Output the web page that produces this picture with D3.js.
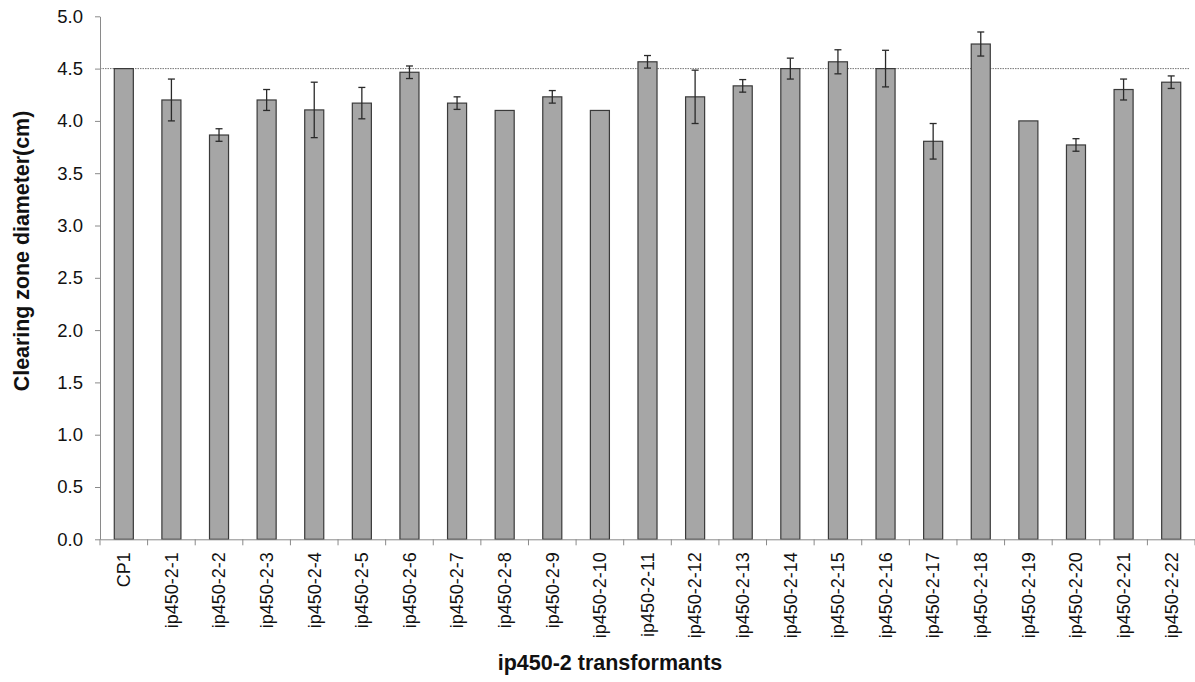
<!DOCTYPE html>
<html>
<head>
<meta charset="utf-8">
<script src="https://cdn.jsdelivr.net/npm/d3@7"></script>
<style>
  body { margin: 0; background: #fff; }
  svg { display: block; font-family: "Liberation Sans", Arial, sans-serif; }
</style>
</head>
<body>
<svg id="chart" width="1195" height="682"></svg>
<script>
// Strains tested
const categories = ["CP1", "ip450-2-1", "ip450-2-2", "ip450-2-3", "ip450-2-4", "ip450-2-5",
  "ip450-2-6", "ip450-2-7", "ip450-2-8", "ip450-2-9", "ip450-2-10", "ip450-2-11",
  "ip450-2-12", "ip450-2-13", "ip450-2-14", "ip450-2-15", "ip450-2-16", "ip450-2-17",
  "ip450-2-18", "ip450-2-19", "ip450-2-20", "ip450-2-21", "ip450-2-22"];

// Mean clearing zone diameter (cm)
const means = [4.50, 4.20, 3.865, 4.20, 4.105, 4.17, 4.465, 4.17, 4.10, 4.23, 4.10, 4.565,
  4.23, 4.335, 4.50, 4.565, 4.50, 3.805, 4.735, 4.00, 3.77, 4.30, 4.37];

// Standard deviation (0 = no error bar)
const errors = [0, 0.20, 0.06, 0.10, 0.265, 0.15, 0.06, 0.06, 0, 0.06, 0, 0.06,
  0.255, 0.06, 0.10, 0.115, 0.175, 0.17, 0.115, 0, 0.06, 0.10, 0.06];

// Reference level (CP1)
const referenceLine = [4.5];

const yTicks = [0, 0.5, 1.0, 1.5, 2.0, 2.5, 3.0, 3.5, 4.0, 4.5, 5.0];

const svg = d3.select("#chart");
const margin = { left: 100, right: 0, top: 16.3, bottom: 142.7 };
const W = 1195, H = 682;

const x = d3.scaleBand()
  .domain(categories)
  .range([margin.left, W - margin.right])
  .paddingInner(0).paddingOuter(0);

const y = d3.scaleLinear()
  .domain([0, 5])
  .range([H - margin.bottom, margin.top]);

const barW = x.bandwidth() / 2.5;
const axisColor = "#8a8a8a";

// Reference dotted line
svg.selectAll("line.ref").data(referenceLine).join("line")
  .attr("class", "ref")
  .attr("x1", margin.left).attr("x2", 1190)
  .attr("y1", d => y(d)).attr("y2", d => y(d))
  .attr("stroke", "#777").attr("stroke-width", 1)
  .attr("stroke-dasharray", "1.5,1");

// Bars
const data = categories.map((c, i) => ({ c, m: means[i], e: errors[i] }));
svg.append("g").selectAll("rect").data(data).join("rect")
  .attr("x", d => x(d.c) + (x.bandwidth() - barW) / 2)
  .attr("y", d => y(d.m))
  .attr("width", barW)
  .attr("height", d => y(0) - y(d.m))
  .attr("fill", "#a6a6a6")
  .attr("stroke", "#3a3a3a")
  .attr("stroke-width", 1.2);

// Error bars
const eb = svg.append("g").selectAll("g").data(data.filter(d => d.e > 0)).join("g")
  .attr("stroke", "#2a2a2a").attr("stroke-width", 1.3);
const cx = d => x(d.c) + x.bandwidth() / 2;
eb.append("line")
  .attr("x1", cx).attr("x2", cx)
  .attr("y1", d => y(d.m + d.e)).attr("y2", d => y(d.m - d.e));
eb.append("line")
  .attr("x1", d => cx(d) - 3.5).attr("x2", d => cx(d) + 3.5)
  .attr("y1", d => y(d.m + d.e)).attr("y2", d => y(d.m + d.e));
eb.append("line")
  .attr("x1", d => cx(d) - 3.5).attr("x2", d => cx(d) + 3.5)
  .attr("y1", d => y(d.m - d.e)).attr("y2", d => y(d.m - d.e));

// Y axis
const yAxis = svg.append("g")
  .attr("transform", `translate(${margin.left},0)`)
  .call(d3.axisLeft(y).tickValues(yTicks).tickFormat(d3.format(".1f")).tickSize(5).tickSizeOuter(0).tickPadding(12));
yAxis.select(".domain").attr("stroke", axisColor);
yAxis.selectAll(".tick line").attr("stroke", axisColor);
yAxis.selectAll(".tick text").attr("fill", "#111").style("font-size", "18.5px");

// X axis: ticks on band boundaries
const xAxis = svg.append("g")
  .attr("transform", `translate(0,${y(0)})`)
  .call(d3.axisBottom(x).tickSize(0).tickSizeOuter(0).tickPadding(0));
xAxis.select(".domain").attr("stroke", axisColor);
xAxis.selectAll(".tick text")
  .attr("fill", "#111")
  .style("font-size", "18px")
  .attr("text-anchor", "end")
  .attr("transform", "rotate(-90)")
  .attr("x", -13)
  .attr("y", 0)
  .attr("dy", "0.35em");
const bounds = categories.map(c => x(c)).concat([x(categories[categories.length - 1]) + x.bandwidth()]);
xAxis.selectAll("line.bnd").data(bounds).join("line")
  .attr("class", "bnd")
  .attr("x1", d => d).attr("x2", d => d)
  .attr("y1", 0).attr("y2", 6)
  .attr("stroke", axisColor);

// Axis titles
svg.append("text")
  .attr("transform", "translate(29,251) rotate(-90)")
  .attr("text-anchor", "middle")
  .style("font-size", "21.4px").style("font-weight", "bold")
  .attr("fill", "#111")
  .text("Clearing zone diameter(cm)");

svg.append("text")
  .attr("x", 610).attr("y", 670)
  .attr("text-anchor", "middle")
  .style("font-size", "21.5px").style("font-weight", "bold")
  .attr("fill", "#111")
  .text("ip450-2 transformants");
</script>
</body>
</html>
